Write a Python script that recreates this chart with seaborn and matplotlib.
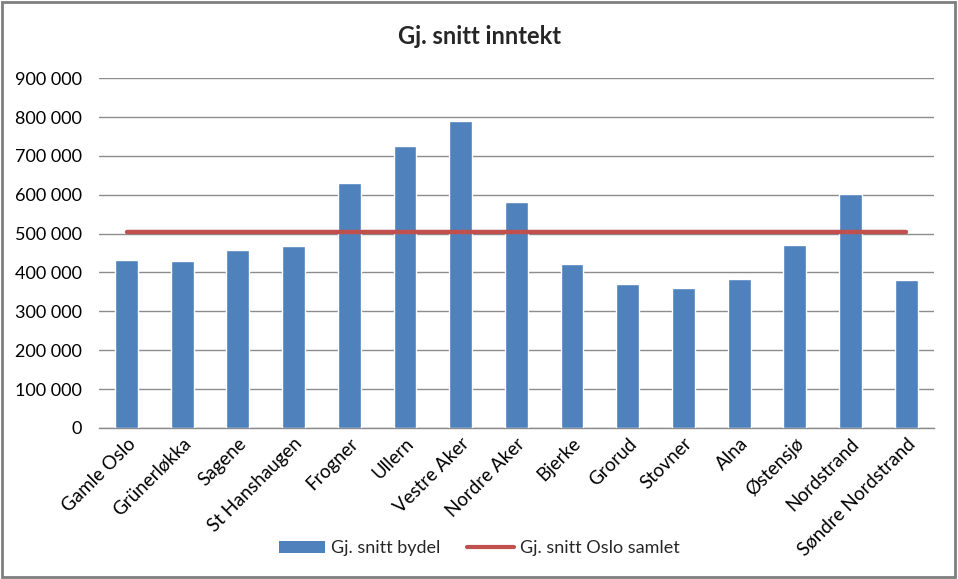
import matplotlib
matplotlib.use("Agg")
import matplotlib.pyplot as plt
import seaborn as sns
import pandas as pd
from matplotlib.patches import Rectangle, Patch
from matplotlib.lines import Line2D
from matplotlib.ticker import FuncFormatter, MultipleLocator

bydeler = ["Gamle Oslo", "Grünerløkka", "Sagene", "St Hanshaugen", "Frogner",
           "Ullern", "Vestre Aker", "Nordre Aker", "Bjerke", "Grorud",
           "Stovner", "Alna", "Østensjø", "Nordstrand", "Søndre Nordstrand"]
snitt_bydel = [432000, 429000, 458000, 469000, 631000, 726000, 789000, 582000,
               422000, 370000, 360000, 383000, 471000, 603000, 380000]
snitt_oslo = [504000] * len(bydeler)

sns.set_theme(style="white")
plt.rcParams['font.family'] = ['Lato', 'DejaVu Sans']

df = pd.DataFrame({"bydel": bydeler, "bydel_snitt": snitt_bydel, "oslo": snitt_oslo})

fig = plt.figure(figsize=(9.58, 5.79), dpi=100)
ax = fig.add_axes([0.103, 0.261, 0.872, 0.604])

bar_color = "#4F81BD"
line_color = "#C0504D"

sns.barplot(data=df, x="bydel", y="bydel_snitt", color=bar_color, width=0.41,
            saturation=1, ax=ax, zorder=3)
sns.lineplot(x=list(range(len(bydeler))), y=df["oslo"], color=line_color,
             linewidth=3.2, ax=ax, zorder=4)

ax.set_xlim(-0.5, len(bydeler) - 0.5)
ax.set_ylim(0, 900000)
ax.yaxis.set_major_locator(MultipleLocator(100000))
ax.yaxis.set_major_formatter(FuncFormatter(lambda v, p: f"{int(v):,}".replace(",", " ")))
ax.grid(axis="y", color="#8C8C8C", linewidth=1, zorder=0)
ax.set_axisbelow(True)
for s in ["left", "right", "top"]:
    ax.spines[s].set_visible(False)
ax.spines["bottom"].set_color("#8C8C8C")
ax.spines["bottom"].set_linewidth(1)
ax.set_xlabel("")
ax.set_ylabel("")
ax.tick_params(axis="y", length=0, labelsize=13, pad=12, colors="black")
ax.tick_params(axis="x", length=0, labelsize=13.5, pad=5, colors="black")
ax.set_xticks(range(len(bydeler)))
ax.set_xticklabels(bydeler, rotation=45, ha="right", rotation_mode="anchor")

fig.text(0.5, 0.937, "Gj. snitt inntekt", ha="center", va="center",
         fontsize=17, fontweight="bold")

handles = [Patch(facecolor=bar_color, edgecolor="none"),
           Line2D([0], [0], color=line_color, linewidth=3)]
fig.legend(handles, ["Gj. snitt bydel", "Gj. snitt Oslo samlet"], loc="center",
           bbox_to_anchor=(0.5, 0.053), ncol=2, frameon=False, fontsize=13,
           handlelength=2.6, handletextpad=0.3, columnspacing=1.5)

fig.patches.append(Rectangle((0.002, 0.003), 0.995, 0.994, transform=fig.transFigure,
                             fill=False, edgecolor="#7F7F7F", linewidth=2))

fig.savefig("out.png", dpi=100)
